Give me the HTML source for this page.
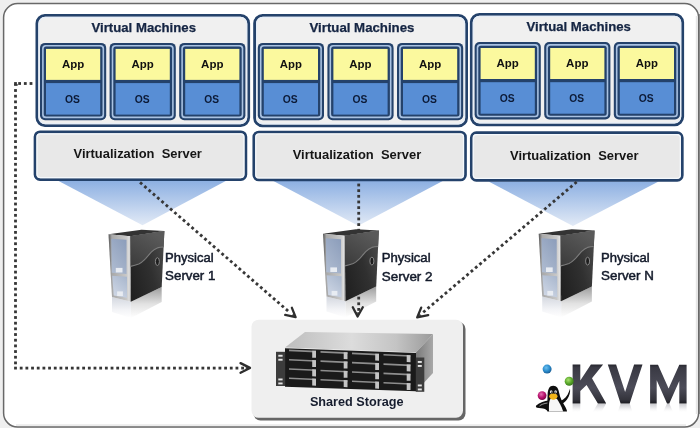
<!DOCTYPE html>
<html><head><meta charset="utf-8"><style>
html,body{margin:0;padding:0;background:#efefef;}
svg{display:block;will-change:transform;}
text{font-family:"Liberation Sans",sans-serif;white-space:pre;}
.t1{font-weight:bold;font-size:12.7px;fill:#152543;stroke:#152543;stroke-width:0.25px;}
.app{font-weight:bold;font-size:10.2px;fill:#111;}
.os{font-weight:bold;font-size:10.3px;fill:#0c1a36;}
.vs{font-weight:bold;font-size:12.3px;fill:#151515;}
.ps{font-size:11.9px;fill:#131a2a;stroke:#131a2a;stroke-width:0.45px;}
.ss{font-weight:bold;font-size:13.5px;fill:#161d2e;}
.kvm{font-weight:bold;font-size:54px;}
</style></head><body>
<svg width="700" height="428" viewBox="0 0 700 428">
<defs>
<linearGradient id="tg" x1="0" y1="0" x2="0" y2="1"><stop offset="0" stop-color="#8db0e2"/><stop offset="1" stop-color="#e2eaf6"/></linearGradient>
<linearGradient id="side" x1="0" y1="0.8" x2="1" y2="0.2"><stop offset="0" stop-color="#202020"/><stop offset="0.55" stop-color="#303030"/><stop offset="1" stop-color="#4a4a4a"/></linearGradient>
<linearGradient id="side2" x1="0" y1="1" x2="0.6" y2="0"><stop offset="0" stop-color="#3a3a3a"/><stop offset="1" stop-color="#5a5a5a"/></linearGradient>
<linearGradient id="front" x1="0" y1="0" x2="1" y2="0"><stop offset="0" stop-color="#555"/><stop offset="0.15" stop-color="#a8a8a8"/><stop offset="0.8" stop-color="#c8c8c8"/><stop offset="0.93" stop-color="#e0e0e0"/><stop offset="1" stop-color="#777"/></linearGradient>
<linearGradient id="glass" x1="0.8" y1="0" x2="0.2" y2="1"><stop offset="0" stop-color="#8e9fbc"/><stop offset="1" stop-color="#aebbd0"/></linearGradient>
<linearGradient id="glass2" x1="0.8" y1="0" x2="0.2" y2="1"><stop offset="0" stop-color="#aab8ce"/><stop offset="1" stop-color="#d0d8e6"/></linearGradient>
<linearGradient id="refl" x1="0" y1="0" x2="0" y2="1"><stop offset="0" stop-color="#9c9c9c"/><stop offset="0.55" stop-color="#e2e2e2"/><stop offset="1" stop-color="#ffffff"/></linearGradient>
<linearGradient id="refl2" x1="0" y1="0" x2="0" y2="1"><stop offset="0" stop-color="#d4d8e0"/><stop offset="0.6" stop-color="#f2f3f6"/><stop offset="1" stop-color="#ffffff"/></linearGradient>
<linearGradient id="stop" x1="0" y1="0" x2="1" y2="0"><stop offset="0" stop-color="#bdbdbd"/><stop offset="0.45" stop-color="#dcdcdc"/><stop offset="0.75" stop-color="#c4c4c4"/><stop offset="1" stop-color="#9a9a9a"/></linearGradient>
<linearGradient id="sside" x1="0" y1="0" x2="1" y2="0"><stop offset="0" stop-color="#7a7a7a"/><stop offset="1" stop-color="#a8a8a8"/></linearGradient>
<linearGradient id="kvm" gradientUnits="userSpaceOnUse" x1="0" y1="364.6" x2="0" y2="403.4"><stop offset="0" stop-color="#26262e"/><stop offset="0.08" stop-color="#3a3a44"/><stop offset="0.6" stop-color="#4c4c58"/><stop offset="0.9" stop-color="#34343c"/><stop offset="1" stop-color="#1c1c22"/></linearGradient>
<linearGradient id="rg" gradientUnits="userSpaceOnUse" x1="0" y1="403.4" x2="0" y2="412"><stop offset="0" stop-color="#fff"/><stop offset="1" stop-color="#000"/></linearGradient>
<mask id="rmask" maskUnits="userSpaceOnUse" x="560" y="395" width="140" height="30"><rect x="560" y="403.4" width="140" height="12" fill="url(#rg)"/></mask>
<radialGradient id="bb" cx="0.4" cy="0.35" r="0.65"><stop offset="0" stop-color="#6cc0f0"/><stop offset="0.6" stop-color="#2a8ccc"/><stop offset="1" stop-color="#1a5e96"/></radialGradient>
<radialGradient id="bg" cx="0.4" cy="0.35" r="0.65"><stop offset="0" stop-color="#a8e070"/><stop offset="0.6" stop-color="#5aa82a"/><stop offset="1" stop-color="#3a7a1a"/></radialGradient>
<radialGradient id="bm" cx="0.4" cy="0.35" r="0.65"><stop offset="0" stop-color="#e070b0"/><stop offset="0.6" stop-color="#b8106c"/><stop offset="1" stop-color="#7a0846"/></radialGradient>
<linearGradient id="krefl" gradientUnits="userSpaceOnUse" x1="0" y1="403.4" x2="0" y2="394"><stop offset="0" stop-color="#c8c8cc"/><stop offset="0.5" stop-color="#ececee"/><stop offset="1" stop-color="#ffffff" stop-opacity="0"/></linearGradient>
</defs>
<rect x="0" y="0" width="700" height="428" fill="#efefef"/>
<rect x="3.6" y="3.6" width="695" height="423.4" rx="14" fill="#ffffff" stroke="#686868" stroke-width="1.5"/>
<rect x="695.8" y="16" width="2" height="398" fill="#e6e6e6"/>
<rect x="699.2" y="14" width="1" height="400" fill="#7a7a7a"/>
<rect x="16" y="424.2" width="670" height="1.8" fill="#ececec"/>
<polygon points="58.6,181 225.7,181 142.5,225.2" fill="url(#tg)"/>
<polygon points="273.4,181 442.7,181 358.2,225.8" fill="url(#tg)"/>
<polygon points="488.6,181.5 658.6,181.5 572.9,225.9" fill="url(#tg)"/>
<rect x="36.9" y="15.4" width="211.8" height="110.2" rx="8" fill="#f0f0f0" stroke="#24426b" stroke-width="2.8"/>
<rect x="38.9" y="17.4" width="207.8" height="106.2" rx="6.5" fill="none" stroke="#e6eef8" stroke-width="1.2"/>
<text x="91.51" y="32.0" class="t1" textLength="104.48" lengthAdjust="spacingAndGlyphs" >Virtual Machines</text>
<rect x="40.00" y="42.9" width="66.2" height="77.4" rx="5" fill="#24426b"/>
<rect x="42.10" y="45.0" width="62.00" height="73.20" rx="3.5" fill="#a9c2e2"/>
<rect x="43.70" y="46.6" width="58.80" height="70.00" rx="2.5" fill="#24426b"/>
<rect x="46.00" y="48.9" width="54.20" height="31.0" fill="#fbf99e"/>
<rect x="46.00" y="83.10" width="54.20" height="31.5" fill="#588ed5"/>
<text x="62.08" y="67.6" class="app" textLength="22.31" lengthAdjust="spacingAndGlyphs" >App</text>
<text x="65.04" y="103.1" class="os" textLength="14.91" lengthAdjust="spacingAndGlyphs" >OS</text>
<rect x="109.60" y="42.9" width="66.2" height="77.4" rx="5" fill="#24426b"/>
<rect x="111.70" y="45.0" width="62.00" height="73.20" rx="3.5" fill="#a9c2e2"/>
<rect x="113.30" y="46.6" width="58.80" height="70.00" rx="2.5" fill="#24426b"/>
<rect x="115.60" y="48.9" width="54.20" height="31.0" fill="#fbf99e"/>
<rect x="115.60" y="83.10" width="54.20" height="31.5" fill="#588ed5"/>
<text x="131.53" y="67.6" class="app" textLength="22.26" lengthAdjust="spacingAndGlyphs" >App</text>
<text x="134.71" y="103.1" class="os" textLength="14.91" lengthAdjust="spacingAndGlyphs" >OS</text>
<rect x="179.20" y="42.9" width="66.2" height="77.4" rx="5" fill="#24426b"/>
<rect x="181.30" y="45.0" width="62.00" height="73.20" rx="3.5" fill="#a9c2e2"/>
<rect x="182.90" y="46.6" width="58.80" height="70.00" rx="2.5" fill="#24426b"/>
<rect x="185.20" y="48.9" width="54.20" height="31.0" fill="#fbf99e"/>
<rect x="185.20" y="83.10" width="54.20" height="31.5" fill="#588ed5"/>
<text x="201.13" y="67.6" class="app" textLength="22.41" lengthAdjust="spacingAndGlyphs" >App</text>
<text x="204.37" y="103.1" class="os" textLength="14.75" lengthAdjust="spacingAndGlyphs" >OS</text>
<rect x="254.6" y="15.3" width="212.0" height="110.6" rx="8" fill="#f0f0f0" stroke="#24426b" stroke-width="2.8"/>
<rect x="256.6" y="17.3" width="208.0" height="106.6" rx="6.5" fill="none" stroke="#e6eef8" stroke-width="1.2"/>
<text x="309.51" y="31.7" class="t1" textLength="104.94" lengthAdjust="spacingAndGlyphs" >Virtual Machines</text>
<rect x="257.80" y="42.9" width="66.2" height="77.4" rx="5" fill="#24426b"/>
<rect x="259.90" y="45.0" width="62.00" height="73.20" rx="3.5" fill="#a9c2e2"/>
<rect x="261.50" y="46.6" width="58.80" height="70.00" rx="2.5" fill="#24426b"/>
<rect x="263.80" y="48.9" width="54.20" height="31.0" fill="#fbf99e"/>
<rect x="263.80" y="83.10" width="54.20" height="31.5" fill="#588ed5"/>
<text x="279.88" y="67.6" class="app" textLength="22.10" lengthAdjust="spacingAndGlyphs" >App</text>
<text x="282.84" y="103.1" class="os" textLength="14.92" lengthAdjust="spacingAndGlyphs" >OS</text>
<rect x="327.40" y="42.9" width="66.2" height="77.4" rx="5" fill="#24426b"/>
<rect x="329.50" y="45.0" width="62.00" height="73.20" rx="3.5" fill="#a9c2e2"/>
<rect x="331.10" y="46.6" width="58.80" height="70.00" rx="2.5" fill="#24426b"/>
<rect x="333.40" y="48.9" width="54.20" height="31.0" fill="#fbf99e"/>
<rect x="333.40" y="83.10" width="54.20" height="31.5" fill="#588ed5"/>
<text x="349.27" y="67.6" class="app" textLength="22.29" lengthAdjust="spacingAndGlyphs" >App</text>
<text x="352.57" y="103.1" class="os" textLength="14.87" lengthAdjust="spacingAndGlyphs" >OS</text>
<rect x="397.00" y="42.9" width="66.2" height="77.4" rx="5" fill="#24426b"/>
<rect x="399.10" y="45.0" width="62.00" height="73.20" rx="3.5" fill="#a9c2e2"/>
<rect x="400.70" y="46.6" width="58.80" height="70.00" rx="2.5" fill="#24426b"/>
<rect x="403.00" y="48.9" width="54.20" height="31.0" fill="#fbf99e"/>
<rect x="403.00" y="83.10" width="54.20" height="31.5" fill="#588ed5"/>
<text x="419.08" y="67.6" class="app" textLength="22.31" lengthAdjust="spacingAndGlyphs" >App</text>
<text x="422.04" y="103.1" class="os" textLength="14.91" lengthAdjust="spacingAndGlyphs" >OS</text>
<rect x="471.3" y="14.3" width="211.4" height="110.5" rx="8" fill="#f0f0f0" stroke="#24426b" stroke-width="2.8"/>
<rect x="473.3" y="16.3" width="207.4" height="106.5" rx="6.5" fill="none" stroke="#e6eef8" stroke-width="1.2"/>
<text x="526.49" y="30.6" class="t1" textLength="104.36" lengthAdjust="spacingAndGlyphs" >Virtual Machines</text>
<rect x="474.60" y="42.0" width="66.2" height="77.4" rx="5" fill="#24426b"/>
<rect x="476.70" y="44.1" width="62.00" height="73.20" rx="3.5" fill="#a9c2e2"/>
<rect x="478.30" y="45.7" width="58.80" height="70.00" rx="2.5" fill="#24426b"/>
<rect x="480.60" y="48.0" width="54.20" height="31.0" fill="#fbf99e"/>
<rect x="480.60" y="82.20" width="54.20" height="31.5" fill="#588ed5"/>
<text x="496.53" y="66.7" class="app" textLength="22.26" lengthAdjust="spacingAndGlyphs" >App</text>
<text x="499.71" y="102.2" class="os" textLength="14.91" lengthAdjust="spacingAndGlyphs" >OS</text>
<rect x="544.20" y="42.0" width="66.2" height="77.4" rx="5" fill="#24426b"/>
<rect x="546.30" y="44.1" width="62.00" height="73.20" rx="3.5" fill="#a9c2e2"/>
<rect x="547.90" y="45.7" width="58.80" height="70.00" rx="2.5" fill="#24426b"/>
<rect x="550.20" y="48.0" width="54.20" height="31.0" fill="#fbf99e"/>
<rect x="550.20" y="82.20" width="54.20" height="31.5" fill="#588ed5"/>
<text x="566.13" y="66.7" class="app" textLength="22.41" lengthAdjust="spacingAndGlyphs" >App</text>
<text x="569.30" y="102.2" class="os" textLength="14.80" lengthAdjust="spacingAndGlyphs" >OS</text>
<rect x="613.80" y="42.0" width="66.2" height="77.4" rx="5" fill="#24426b"/>
<rect x="615.90" y="44.1" width="62.00" height="73.20" rx="3.5" fill="#a9c2e2"/>
<rect x="617.50" y="45.7" width="58.80" height="70.00" rx="2.5" fill="#24426b"/>
<rect x="619.80" y="48.0" width="54.20" height="31.0" fill="#fbf99e"/>
<rect x="619.80" y="82.20" width="54.20" height="31.5" fill="#588ed5"/>
<text x="635.88" y="66.7" class="app" textLength="22.10" lengthAdjust="spacingAndGlyphs" >App</text>
<text x="638.84" y="102.2" class="os" textLength="14.92" lengthAdjust="spacingAndGlyphs" >OS</text>
<rect x="35.0" y="131.8" width="210.9" height="47.79999999999998" rx="5" fill="#e8e8e8" stroke="#24426b" stroke-width="2.7"/>
<rect x="37.0" y="133.8" width="206.9" height="43.79999999999998" rx="3.5" fill="none" stroke="#f4f8fc" stroke-width="1.2"/>
<text x="73.57" y="158.4" class="vs" textLength="128.32" lengthAdjust="spacingAndGlyphs" >Virtualization  Server</text>
<rect x="253.8" y="132.0" width="211.7" height="47.900000000000006" rx="5" fill="#e8e8e8" stroke="#24426b" stroke-width="2.7"/>
<rect x="255.8" y="134.0" width="207.7" height="43.900000000000006" rx="3.5" fill="none" stroke="#f4f8fc" stroke-width="1.2"/>
<text x="292.68" y="158.7" class="vs" textLength="128.66" lengthAdjust="spacingAndGlyphs" >Virtualization  Server</text>
<rect x="471.3" y="132.7" width="210.99999999999994" height="47.60000000000002" rx="5" fill="#e8e8e8" stroke="#24426b" stroke-width="2.7"/>
<rect x="473.3" y="134.7" width="206.99999999999994" height="43.60000000000002" rx="3.5" fill="none" stroke="#f4f8fc" stroke-width="1.2"/>
<text x="510.03" y="159.6" class="vs" textLength="128.50" lengthAdjust="spacingAndGlyphs" >Virtualization  Server</text>
<rect x="253.5" y="322" width="212" height="98.5" rx="7" fill="#666" />
<rect x="251.5" y="319.8" width="211.5" height="98" rx="7" fill="#efefef"/>
<g>
<polygon points="285,347.5 305,332 433,334 416,352.5" fill="url(#stop)"/>
<polygon points="285,347.5 416,352.5 416,354 285,349" fill="#e6e6e6" opacity="0.6"/>
<polygon points="416,352.5 433,334 433,373 416,391.2" fill="url(#sside)"/>
<polygon points="285,348.3 416,353 416,391.2 285,386.8" fill="#1a1a1a"/>
<polygon points="276,351.8 285.2,351.8 285.2,386 276,386" fill="#3c3c3c"/>
<polygon points="415.8,357.5 424.3,357.5 424.3,391.8 415.8,391.8" fill="#3c3c3c"/>
<rect x="278.3" y="354.8" width="4.3" height="1.9" fill="#e4e4e4"/>
<rect x="278.3" y="358.8" width="4.3" height="1.9" fill="#e4e4e4"/>
<rect x="278.3" y="378.5" width="4.3" height="1.9" fill="#e4e4e4"/>
<rect x="278.3" y="382.5" width="4.3" height="1.9" fill="#e4e4e4"/>
<rect x="417.8" y="361" width="4" height="1.9" fill="#e4e4e4"/>
<rect x="417.8" y="365" width="4" height="1.9" fill="#e4e4e4"/>
<rect x="417.8" y="384.5" width="4" height="1.9" fill="#e4e4e4"/>
<rect x="417.8" y="388.5" width="4" height="1.9" fill="#e4e4e4"/>
<polygon points="289.0,349.60 316.0,350.85 316.0,352.45 289.0,351.20" fill="#8e8e8e"/>
<polygon points="312.2,350.70 316.0,350.85 316.0,357.80 312.2,357.65" fill="#c4c4c4"/>
<polygon points="320.5,351.07 347.5,352.32 347.5,353.92 320.5,352.67" fill="#8e8e8e"/>
<polygon points="343.7,352.17 347.5,352.32 347.5,359.27 343.7,359.12" fill="#c4c4c4"/>
<polygon points="352.0,352.54 379.0,353.79 379.0,355.39 352.0,354.14" fill="#8e8e8e"/>
<polygon points="375.2,353.64 379.0,353.79 379.0,360.74 375.2,360.59" fill="#c4c4c4"/>
<polygon points="383.5,354.01 410.5,355.26 410.5,356.86 383.5,355.61" fill="#8e8e8e"/>
<polygon points="406.7,355.11 410.5,355.26 410.5,362.21 406.7,362.06" fill="#c4c4c4"/>
<polygon points="289.0,358.90 316.0,360.15 316.0,361.75 289.0,360.50" fill="#8e8e8e"/>
<polygon points="312.2,360.00 316.0,360.15 316.0,367.10 312.2,366.95" fill="#c4c4c4"/>
<polygon points="320.5,360.37 347.5,361.62 347.5,363.22 320.5,361.97" fill="#8e8e8e"/>
<polygon points="343.7,361.47 347.5,361.62 347.5,368.57 343.7,368.42" fill="#c4c4c4"/>
<polygon points="352.0,361.84 379.0,363.09 379.0,364.69 352.0,363.44" fill="#8e8e8e"/>
<polygon points="375.2,362.94 379.0,363.09 379.0,370.04 375.2,369.89" fill="#c4c4c4"/>
<polygon points="383.5,363.31 410.5,364.56 410.5,366.16 383.5,364.91" fill="#8e8e8e"/>
<polygon points="406.7,364.41 410.5,364.56 410.5,371.51 406.7,371.36" fill="#c4c4c4"/>
<polygon points="289.0,368.20 316.0,369.45 316.0,371.05 289.0,369.80" fill="#8e8e8e"/>
<polygon points="312.2,369.30 316.0,369.45 316.0,376.40 312.2,376.25" fill="#c4c4c4"/>
<polygon points="320.5,369.67 347.5,370.92 347.5,372.52 320.5,371.27" fill="#8e8e8e"/>
<polygon points="343.7,370.77 347.5,370.92 347.5,377.87 343.7,377.72" fill="#c4c4c4"/>
<polygon points="352.0,371.14 379.0,372.39 379.0,373.99 352.0,372.74" fill="#8e8e8e"/>
<polygon points="375.2,372.24 379.0,372.39 379.0,379.34 375.2,379.19" fill="#c4c4c4"/>
<polygon points="383.5,372.61 410.5,373.86 410.5,375.46 383.5,374.21" fill="#8e8e8e"/>
<polygon points="406.7,373.71 410.5,373.86 410.5,380.81 406.7,380.66" fill="#c4c4c4"/>
<polygon points="289.0,377.50 316.0,378.75 316.0,380.35 289.0,379.10" fill="#8e8e8e"/>
<polygon points="312.2,378.60 316.0,378.75 316.0,385.70 312.2,385.55" fill="#c4c4c4"/>
<polygon points="320.5,378.97 347.5,380.22 347.5,381.82 320.5,380.57" fill="#8e8e8e"/>
<polygon points="343.7,380.07 347.5,380.22 347.5,387.17 343.7,387.02" fill="#c4c4c4"/>
<polygon points="352.0,380.44 379.0,381.69 379.0,383.29 352.0,382.04" fill="#8e8e8e"/>
<polygon points="375.2,381.54 379.0,381.69 379.0,388.64 375.2,388.49" fill="#c4c4c4"/>
<polygon points="383.5,381.91 410.5,383.16 410.5,384.76 383.5,383.51" fill="#8e8e8e"/>
<polygon points="406.7,383.01 410.5,383.16 410.5,390.11 406.7,389.96" fill="#c4c4c4"/>
</g>
<text x="309.90" y="405.8" class="ss" textLength="93.63" lengthAdjust="spacingAndGlyphs" >Shared Storage</text>
<polygon transform="translate(0,0)" points="130.9,301.7 161.7,286.9 161.7,302 130.9,318" fill="url(#refl)"/>
<polygon transform="translate(0,0)" points="112,297.1 130.9,301.7 130.9,318 112,312" fill="url(#refl2)"/>
<polygon transform="translate(214.5,-0.5)" points="130.9,301.7 161.7,286.9 161.7,302 130.9,318" fill="url(#refl)"/>
<polygon transform="translate(214.5,-0.5)" points="112,297.1 130.9,301.7 130.9,318 112,312" fill="url(#refl2)"/>
<polygon transform="translate(430.2,-0.5)" points="130.9,301.7 161.7,286.9 161.7,302 130.9,318" fill="url(#refl)"/>
<polygon transform="translate(430.2,-0.5)" points="112,297.1 130.9,301.7 130.9,318 112,312" fill="url(#refl2)"/>
<g fill="#363636"><rect x="139.70" y="181.90" width="2.8" height="2.8" transform="rotate(41.0 141.10 183.30)"/><rect x="143.99" y="185.63" width="2.8" height="2.8" transform="rotate(41.0 145.39 187.03)"/><rect x="148.28" y="189.36" width="2.8" height="2.8" transform="rotate(41.0 149.68 190.76)"/><rect x="152.57" y="193.09" width="2.8" height="2.8" transform="rotate(41.0 153.97 194.49)"/><rect x="156.86" y="196.82" width="2.8" height="2.8" transform="rotate(41.0 158.26 198.22)"/><rect x="161.16" y="200.55" width="2.8" height="2.8" transform="rotate(41.0 162.56 201.95)"/><rect x="165.45" y="204.28" width="2.8" height="2.8" transform="rotate(41.0 166.85 205.68)"/><rect x="169.74" y="208.01" width="2.8" height="2.8" transform="rotate(41.0 171.14 209.41)"/><rect x="174.03" y="211.74" width="2.8" height="2.8" transform="rotate(41.0 175.43 213.14)"/><rect x="178.32" y="215.46" width="2.8" height="2.8" transform="rotate(41.0 179.72 216.86)"/><rect x="182.61" y="219.19" width="2.8" height="2.8" transform="rotate(41.0 184.01 220.59)"/><rect x="186.90" y="222.92" width="2.8" height="2.8" transform="rotate(41.0 188.30 224.32)"/><rect x="191.19" y="226.65" width="2.8" height="2.8" transform="rotate(41.0 192.59 228.05)"/><rect x="195.49" y="230.38" width="2.8" height="2.8" transform="rotate(41.0 196.89 231.78)"/><rect x="199.78" y="234.11" width="2.8" height="2.8" transform="rotate(41.0 201.18 235.51)"/><rect x="204.07" y="237.84" width="2.8" height="2.8" transform="rotate(41.0 205.47 239.24)"/><rect x="208.36" y="241.57" width="2.8" height="2.8" transform="rotate(41.0 209.76 242.97)"/><rect x="212.65" y="245.30" width="2.8" height="2.8" transform="rotate(41.0 214.05 246.70)"/><rect x="216.94" y="249.03" width="2.8" height="2.8" transform="rotate(41.0 218.34 250.43)"/><rect x="221.23" y="252.76" width="2.8" height="2.8" transform="rotate(41.0 222.63 254.16)"/><rect x="225.52" y="256.49" width="2.8" height="2.8" transform="rotate(41.0 226.92 257.89)"/><rect x="229.81" y="260.22" width="2.8" height="2.8" transform="rotate(41.0 231.21 261.62)"/><rect x="234.11" y="263.95" width="2.8" height="2.8" transform="rotate(41.0 235.51 265.35)"/><rect x="238.40" y="267.68" width="2.8" height="2.8" transform="rotate(41.0 239.80 269.08)"/><rect x="242.69" y="271.41" width="2.8" height="2.8" transform="rotate(41.0 244.09 272.81)"/><rect x="246.98" y="275.14" width="2.8" height="2.8" transform="rotate(41.0 248.38 276.54)"/><rect x="251.27" y="278.86" width="2.8" height="2.8" transform="rotate(41.0 252.67 280.26)"/><rect x="255.56" y="282.59" width="2.8" height="2.8" transform="rotate(41.0 256.96 283.99)"/><rect x="259.85" y="286.32" width="2.8" height="2.8" transform="rotate(41.0 261.25 287.72)"/><rect x="264.14" y="290.05" width="2.8" height="2.8" transform="rotate(41.0 265.54 291.45)"/><rect x="268.44" y="293.78" width="2.8" height="2.8" transform="rotate(41.0 269.84 295.18)"/><rect x="272.73" y="297.51" width="2.8" height="2.8" transform="rotate(41.0 274.13 298.91)"/><rect x="277.02" y="301.24" width="2.8" height="2.8" transform="rotate(41.0 278.42 302.64)"/><rect x="281.31" y="304.97" width="2.8" height="2.8" transform="rotate(41.0 282.71 306.37)"/><rect x="285.60" y="308.70" width="2.8" height="2.8" transform="rotate(41.0 287.00 310.10)"/></g>
<g fill="#363636"><rect x="357.30" y="183.60" width="2.8" height="2.8" transform="rotate(90.0 358.70 185.00)"/><rect x="357.30" y="189.25" width="2.8" height="2.8" transform="rotate(90.0 358.70 190.65)"/><rect x="357.30" y="194.91" width="2.8" height="2.8" transform="rotate(90.0 358.70 196.31)"/><rect x="357.30" y="200.56" width="2.8" height="2.8" transform="rotate(90.0 358.70 201.96)"/><rect x="357.30" y="206.22" width="2.8" height="2.8" transform="rotate(90.0 358.70 207.62)"/><rect x="357.30" y="211.87" width="2.8" height="2.8" transform="rotate(90.0 358.70 213.27)"/><rect x="357.30" y="217.53" width="2.8" height="2.8" transform="rotate(90.0 358.70 218.93)"/><rect x="357.30" y="223.18" width="2.8" height="2.8" transform="rotate(90.0 358.70 224.58)"/><rect x="357.30" y="228.84" width="2.8" height="2.8" transform="rotate(90.0 358.70 230.24)"/><rect x="357.30" y="234.49" width="2.8" height="2.8" transform="rotate(90.0 358.70 235.89)"/><rect x="357.30" y="240.15" width="2.8" height="2.8" transform="rotate(90.0 358.70 241.55)"/><rect x="357.30" y="245.80" width="2.8" height="2.8" transform="rotate(90.0 358.70 247.20)"/><rect x="357.30" y="251.45" width="2.8" height="2.8" transform="rotate(90.0 358.70 252.85)"/><rect x="357.30" y="257.11" width="2.8" height="2.8" transform="rotate(90.0 358.70 258.51)"/><rect x="357.30" y="262.76" width="2.8" height="2.8" transform="rotate(90.0 358.70 264.16)"/><rect x="357.30" y="268.42" width="2.8" height="2.8" transform="rotate(90.0 358.70 269.82)"/><rect x="357.30" y="274.07" width="2.8" height="2.8" transform="rotate(90.0 358.70 275.47)"/><rect x="357.30" y="279.73" width="2.8" height="2.8" transform="rotate(90.0 358.70 281.13)"/><rect x="357.30" y="285.38" width="2.8" height="2.8" transform="rotate(90.0 358.70 286.78)"/><rect x="357.30" y="291.04" width="2.8" height="2.8" transform="rotate(90.0 358.70 292.44)"/><rect x="357.30" y="296.69" width="2.8" height="2.8" transform="rotate(90.0 358.70 298.09)"/><rect x="357.30" y="302.35" width="2.8" height="2.8" transform="rotate(90.0 358.70 303.75)"/><rect x="357.30" y="308.00" width="2.8" height="2.8" transform="rotate(90.0 358.70 309.40)"/></g>
<g fill="#363636"><rect x="574.20" y="181.50" width="2.8" height="2.8" transform="rotate(139.7 575.60 182.90)"/><rect x="569.88" y="185.17" width="2.8" height="2.8" transform="rotate(139.7 571.28 186.57)"/><rect x="565.55" y="188.84" width="2.8" height="2.8" transform="rotate(139.7 566.95 190.24)"/><rect x="561.23" y="192.51" width="2.8" height="2.8" transform="rotate(139.7 562.63 193.91)"/><rect x="556.91" y="196.19" width="2.8" height="2.8" transform="rotate(139.7 558.31 197.59)"/><rect x="552.59" y="199.86" width="2.8" height="2.8" transform="rotate(139.7 553.99 201.26)"/><rect x="548.26" y="203.53" width="2.8" height="2.8" transform="rotate(139.7 549.66 204.93)"/><rect x="543.94" y="207.20" width="2.8" height="2.8" transform="rotate(139.7 545.34 208.60)"/><rect x="539.62" y="210.87" width="2.8" height="2.8" transform="rotate(139.7 541.02 212.27)"/><rect x="535.29" y="214.54" width="2.8" height="2.8" transform="rotate(139.7 536.69 215.94)"/><rect x="530.97" y="218.21" width="2.8" height="2.8" transform="rotate(139.7 532.37 219.61)"/><rect x="526.65" y="221.89" width="2.8" height="2.8" transform="rotate(139.7 528.05 223.29)"/><rect x="522.33" y="225.56" width="2.8" height="2.8" transform="rotate(139.7 523.73 226.96)"/><rect x="518.00" y="229.23" width="2.8" height="2.8" transform="rotate(139.7 519.40 230.63)"/><rect x="513.68" y="232.90" width="2.8" height="2.8" transform="rotate(139.7 515.08 234.30)"/><rect x="509.36" y="236.57" width="2.8" height="2.8" transform="rotate(139.7 510.76 237.97)"/><rect x="505.03" y="240.24" width="2.8" height="2.8" transform="rotate(139.7 506.43 241.64)"/><rect x="500.71" y="243.91" width="2.8" height="2.8" transform="rotate(139.7 502.11 245.31)"/><rect x="496.39" y="247.59" width="2.8" height="2.8" transform="rotate(139.7 497.79 248.99)"/><rect x="492.07" y="251.26" width="2.8" height="2.8" transform="rotate(139.7 493.47 252.66)"/><rect x="487.74" y="254.93" width="2.8" height="2.8" transform="rotate(139.7 489.14 256.33)"/><rect x="483.42" y="258.60" width="2.8" height="2.8" transform="rotate(139.7 484.82 260.00)"/><rect x="479.10" y="262.27" width="2.8" height="2.8" transform="rotate(139.7 480.50 263.67)"/><rect x="474.77" y="265.94" width="2.8" height="2.8" transform="rotate(139.7 476.17 267.34)"/><rect x="470.45" y="269.61" width="2.8" height="2.8" transform="rotate(139.7 471.85 271.01)"/><rect x="466.13" y="273.29" width="2.8" height="2.8" transform="rotate(139.7 467.53 274.69)"/><rect x="461.81" y="276.96" width="2.8" height="2.8" transform="rotate(139.7 463.21 278.36)"/><rect x="457.48" y="280.63" width="2.8" height="2.8" transform="rotate(139.7 458.88 282.03)"/><rect x="453.16" y="284.30" width="2.8" height="2.8" transform="rotate(139.7 454.56 285.70)"/><rect x="448.84" y="287.97" width="2.8" height="2.8" transform="rotate(139.7 450.24 289.37)"/><rect x="444.51" y="291.64" width="2.8" height="2.8" transform="rotate(139.7 445.91 293.04)"/><rect x="440.19" y="295.31" width="2.8" height="2.8" transform="rotate(139.7 441.59 296.71)"/><rect x="435.87" y="298.99" width="2.8" height="2.8" transform="rotate(139.7 437.27 300.39)"/><rect x="431.55" y="302.66" width="2.8" height="2.8" transform="rotate(139.7 432.95 304.06)"/><rect x="427.22" y="306.33" width="2.8" height="2.8" transform="rotate(139.7 428.62 307.73)"/><rect x="422.90" y="310.00" width="2.8" height="2.8" transform="rotate(139.7 424.30 311.40)"/></g>
<g fill="#363636"><rect x="29.60" y="82.10" width="2.8" height="2.8" transform="rotate(180.0 31.00 83.50)"/><rect x="23.90" y="82.10" width="2.8" height="2.8" transform="rotate(180.0 25.30 83.50)"/><rect x="18.20" y="82.10" width="2.8" height="2.8" transform="rotate(180.0 19.60 83.50)"/></g>
<g fill="#363636"><rect x="14.1" y="82.1" width="2.8" height="3.4"/><rect x="14.1" y="84.1" width="3.6" height="1.6"/></g>
<g fill="#363636"><rect x="14.10" y="89.10" width="2.8" height="2.8" transform="rotate(90.0 15.50 90.50)"/><rect x="14.10" y="94.77" width="2.8" height="2.8" transform="rotate(90.0 15.50 96.17)"/><rect x="14.10" y="100.45" width="2.8" height="2.8" transform="rotate(90.0 15.50 101.85)"/><rect x="14.10" y="106.12" width="2.8" height="2.8" transform="rotate(90.0 15.50 107.53)"/><rect x="14.10" y="111.80" width="2.8" height="2.8" transform="rotate(90.0 15.50 113.20)"/><rect x="14.10" y="117.47" width="2.8" height="2.8" transform="rotate(90.0 15.50 118.88)"/><rect x="14.10" y="123.15" width="2.8" height="2.8" transform="rotate(90.0 15.50 124.55)"/><rect x="14.10" y="128.82" width="2.8" height="2.8" transform="rotate(90.0 15.50 130.22)"/><rect x="14.10" y="134.50" width="2.8" height="2.8" transform="rotate(90.0 15.50 135.90)"/><rect x="14.10" y="140.17" width="2.8" height="2.8" transform="rotate(90.0 15.50 141.57)"/><rect x="14.10" y="145.85" width="2.8" height="2.8" transform="rotate(90.0 15.50 147.25)"/><rect x="14.10" y="151.52" width="2.8" height="2.8" transform="rotate(90.0 15.50 152.92)"/><rect x="14.10" y="157.20" width="2.8" height="2.8" transform="rotate(90.0 15.50 158.60)"/><rect x="14.10" y="162.87" width="2.8" height="2.8" transform="rotate(90.0 15.50 164.27)"/><rect x="14.10" y="168.55" width="2.8" height="2.8" transform="rotate(90.0 15.50 169.95)"/><rect x="14.10" y="174.22" width="2.8" height="2.8" transform="rotate(90.0 15.50 175.62)"/><rect x="14.10" y="179.90" width="2.8" height="2.8" transform="rotate(90.0 15.50 181.30)"/><rect x="14.10" y="185.57" width="2.8" height="2.8" transform="rotate(90.0 15.50 186.97)"/><rect x="14.10" y="191.25" width="2.8" height="2.8" transform="rotate(90.0 15.50 192.65)"/><rect x="14.10" y="196.92" width="2.8" height="2.8" transform="rotate(90.0 15.50 198.32)"/><rect x="14.10" y="202.60" width="2.8" height="2.8" transform="rotate(90.0 15.50 204.00)"/><rect x="14.10" y="208.28" width="2.8" height="2.8" transform="rotate(90.0 15.50 209.68)"/><rect x="14.10" y="213.95" width="2.8" height="2.8" transform="rotate(90.0 15.50 215.35)"/><rect x="14.10" y="219.62" width="2.8" height="2.8" transform="rotate(90.0 15.50 221.03)"/><rect x="14.10" y="225.30" width="2.8" height="2.8" transform="rotate(90.0 15.50 226.70)"/><rect x="14.10" y="230.97" width="2.8" height="2.8" transform="rotate(90.0 15.50 232.37)"/><rect x="14.10" y="236.65" width="2.8" height="2.8" transform="rotate(90.0 15.50 238.05)"/><rect x="14.10" y="242.32" width="2.8" height="2.8" transform="rotate(90.0 15.50 243.72)"/><rect x="14.10" y="248.00" width="2.8" height="2.8" transform="rotate(90.0 15.50 249.40)"/><rect x="14.10" y="253.67" width="2.8" height="2.8" transform="rotate(90.0 15.50 255.07)"/><rect x="14.10" y="259.35" width="2.8" height="2.8" transform="rotate(90.0 15.50 260.75)"/><rect x="14.10" y="265.02" width="2.8" height="2.8" transform="rotate(90.0 15.50 266.42)"/><rect x="14.10" y="270.70" width="2.8" height="2.8" transform="rotate(90.0 15.50 272.10)"/><rect x="14.10" y="276.38" width="2.8" height="2.8" transform="rotate(90.0 15.50 277.77)"/><rect x="14.10" y="282.05" width="2.8" height="2.8" transform="rotate(90.0 15.50 283.45)"/><rect x="14.10" y="287.73" width="2.8" height="2.8" transform="rotate(90.0 15.50 289.12)"/><rect x="14.10" y="293.40" width="2.8" height="2.8" transform="rotate(90.0 15.50 294.80)"/><rect x="14.10" y="299.08" width="2.8" height="2.8" transform="rotate(90.0 15.50 300.48)"/><rect x="14.10" y="304.75" width="2.8" height="2.8" transform="rotate(90.0 15.50 306.15)"/><rect x="14.10" y="310.42" width="2.8" height="2.8" transform="rotate(90.0 15.50 311.82)"/><rect x="14.10" y="316.10" width="2.8" height="2.8" transform="rotate(90.0 15.50 317.50)"/><rect x="14.10" y="321.77" width="2.8" height="2.8" transform="rotate(90.0 15.50 323.17)"/><rect x="14.10" y="327.45" width="2.8" height="2.8" transform="rotate(90.0 15.50 328.85)"/><rect x="14.10" y="333.12" width="2.8" height="2.8" transform="rotate(90.0 15.50 334.52)"/><rect x="14.10" y="338.80" width="2.8" height="2.8" transform="rotate(90.0 15.50 340.20)"/><rect x="14.10" y="344.48" width="2.8" height="2.8" transform="rotate(90.0 15.50 345.88)"/><rect x="14.10" y="350.15" width="2.8" height="2.8" transform="rotate(90.0 15.50 351.55)"/><rect x="14.10" y="355.82" width="2.8" height="2.8" transform="rotate(90.0 15.50 357.22)"/><rect x="14.10" y="361.50" width="2.8" height="2.8" transform="rotate(90.0 15.50 362.90)"/></g>
<g fill="#363636"><rect x="14.10" y="366.70" width="2.8" height="2.8" transform="rotate(0.0 15.50 368.10)"/><rect x="19.78" y="366.70" width="2.8" height="2.8" transform="rotate(0.0 21.18 368.10)"/><rect x="25.46" y="366.70" width="2.8" height="2.8" transform="rotate(0.0 26.86 368.10)"/><rect x="31.13" y="366.70" width="2.8" height="2.8" transform="rotate(0.0 32.53 368.10)"/><rect x="36.81" y="366.70" width="2.8" height="2.8" transform="rotate(0.0 38.21 368.10)"/><rect x="42.49" y="366.70" width="2.8" height="2.8" transform="rotate(0.0 43.89 368.10)"/><rect x="48.16" y="366.70" width="2.8" height="2.8" transform="rotate(0.0 49.56 368.10)"/><rect x="53.84" y="366.70" width="2.8" height="2.8" transform="rotate(0.0 55.24 368.10)"/><rect x="59.52" y="366.70" width="2.8" height="2.8" transform="rotate(0.0 60.92 368.10)"/><rect x="65.20" y="366.70" width="2.8" height="2.8" transform="rotate(0.0 66.60 368.10)"/><rect x="70.88" y="366.70" width="2.8" height="2.8" transform="rotate(0.0 72.28 368.10)"/><rect x="76.55" y="366.70" width="2.8" height="2.8" transform="rotate(0.0 77.95 368.10)"/><rect x="82.23" y="366.70" width="2.8" height="2.8" transform="rotate(0.0 83.63 368.10)"/><rect x="87.91" y="366.70" width="2.8" height="2.8" transform="rotate(0.0 89.31 368.10)"/><rect x="93.58" y="366.70" width="2.8" height="2.8" transform="rotate(0.0 94.98 368.10)"/><rect x="99.26" y="366.70" width="2.8" height="2.8" transform="rotate(0.0 100.66 368.10)"/><rect x="104.94" y="366.70" width="2.8" height="2.8" transform="rotate(0.0 106.34 368.10)"/><rect x="110.62" y="366.70" width="2.8" height="2.8" transform="rotate(0.0 112.02 368.10)"/><rect x="116.29" y="366.70" width="2.8" height="2.8" transform="rotate(0.0 117.69 368.10)"/><rect x="121.97" y="366.70" width="2.8" height="2.8" transform="rotate(0.0 123.37 368.10)"/><rect x="127.65" y="366.70" width="2.8" height="2.8" transform="rotate(0.0 129.05 368.10)"/><rect x="133.33" y="366.70" width="2.8" height="2.8" transform="rotate(0.0 134.73 368.10)"/><rect x="139.00" y="366.70" width="2.8" height="2.8" transform="rotate(0.0 140.41 368.10)"/><rect x="144.68" y="366.70" width="2.8" height="2.8" transform="rotate(0.0 146.08 368.10)"/><rect x="150.36" y="366.70" width="2.8" height="2.8" transform="rotate(0.0 151.76 368.10)"/><rect x="156.04" y="366.70" width="2.8" height="2.8" transform="rotate(0.0 157.44 368.10)"/><rect x="161.71" y="366.70" width="2.8" height="2.8" transform="rotate(0.0 163.11 368.10)"/><rect x="167.39" y="366.70" width="2.8" height="2.8" transform="rotate(0.0 168.79 368.10)"/><rect x="173.07" y="366.70" width="2.8" height="2.8" transform="rotate(0.0 174.47 368.10)"/><rect x="178.75" y="366.70" width="2.8" height="2.8" transform="rotate(0.0 180.15 368.10)"/><rect x="184.42" y="366.70" width="2.8" height="2.8" transform="rotate(0.0 185.82 368.10)"/><rect x="190.10" y="366.70" width="2.8" height="2.8" transform="rotate(0.0 191.50 368.10)"/><rect x="195.78" y="366.70" width="2.8" height="2.8" transform="rotate(0.0 197.18 368.10)"/><rect x="201.46" y="366.70" width="2.8" height="2.8" transform="rotate(0.0 202.86 368.10)"/><rect x="207.13" y="366.70" width="2.8" height="2.8" transform="rotate(0.0 208.53 368.10)"/><rect x="212.81" y="366.70" width="2.8" height="2.8" transform="rotate(0.0 214.21 368.10)"/><rect x="218.49" y="366.70" width="2.8" height="2.8" transform="rotate(0.0 219.89 368.10)"/><rect x="224.17" y="366.70" width="2.8" height="2.8" transform="rotate(0.0 225.57 368.10)"/><rect x="229.84" y="366.70" width="2.8" height="2.8" transform="rotate(0.0 231.24 368.10)"/><rect x="235.52" y="366.70" width="2.8" height="2.8" transform="rotate(0.0 236.92 368.10)"/><rect x="241.20" y="366.70" width="2.8" height="2.8" transform="rotate(0.0 242.60 368.10)"/></g>
<polygon points="295.6,317.2 293.94,312.97 290.92,316.16" fill="#555"/><path d="M291.9,307.8 L295.6,317.2 L285.2,314.9" fill="none" stroke="#2e2e2e" stroke-width="2.3" stroke-linecap="round" stroke-linejoin="round"/>
<polygon points="357.6,316.5 355.44,312.36 359.94,312.36" fill="#555"/><path d="M352.8,307.3 L357.6,316.5 L362.8,307.3" fill="none" stroke="#2e2e2e" stroke-width="2.3" stroke-linecap="round" stroke-linejoin="round"/>
<polygon points="417.2,317.4 419.00,312.99 422.15,316.37" fill="#555"/><path d="M421.2,307.6 L417.2,317.4 L428.2,315.1" fill="none" stroke="#2e2e2e" stroke-width="2.3" stroke-linecap="round" stroke-linejoin="round"/>
<polygon points="250.0,367.9 245.72,365.74 245.72,370.11" fill="#555"/><path d="M240.5,363.1 L250.0,367.9 L240.5,372.8" fill="none" stroke="#2e2e2e" stroke-width="2.3" stroke-linecap="round" stroke-linejoin="round"/>
<g transform="translate(0,0)">
<polygon points="108.5,234.3 141.5,229.8 164.4,231 130.3,236.3" fill="#333"/>
<polygon points="130.2,236.3 164.4,231 161.7,286.9 130.9,301.7" fill="url(#side)"/>
<path d="M130.2,236.3 L164.4,231 L163.6,247 C160,247.2 158,247.5 157.4,247.9 C154,250 152,251 151.5,251.8 C149,255 147,257.5 145.6,258.6 C142,262 139.5,263.8 138.8,264 C136,265 133,266 130.2,266.5 Z" fill="url(#side2)"/>
<path d="M130.5,266.4 C133,266 136,265 138.8,264 C142,262.5 144,260 145.6,258.6 C148,256 150,253.5 151.5,251.8 C153.5,249.8 155.5,248.5 157.4,247.9 C159.5,247.3 161.5,247.1 163.6,247" fill="none" stroke="#7c7c7c" stroke-width="1.1"/>
<polygon points="108.5,234.3 130.3,236.3 130.9,301.7 112,297.1" fill="url(#front)"/>
<polygon points="111.3,238.7 126.5,239.8 126.5,274 111.8,272.8" fill="url(#glass)"/>
<polygon points="112.2,275.8 127,276.8 127,297.8 113.7,295.4" fill="url(#glass2)"/>
<rect x="115.8" y="267.9" width="6.7" height="4.6" fill="#e8ecf2"/>
<rect x="117.1" y="291.4" width="5.8" height="4.6" fill="#e8ecf2"/>
<ellipse cx="157.4" cy="261.6" rx="2" ry="3.9" fill="#1e1e1e" stroke="#8a8a8a" stroke-width="1"/>
</g>
<g transform="translate(214.5,-0.5)">
<polygon points="108.5,234.3 141.5,229.8 164.4,231 130.3,236.3" fill="#333"/>
<polygon points="130.2,236.3 164.4,231 161.7,286.9 130.9,301.7" fill="url(#side)"/>
<path d="M130.2,236.3 L164.4,231 L163.6,247 C160,247.2 158,247.5 157.4,247.9 C154,250 152,251 151.5,251.8 C149,255 147,257.5 145.6,258.6 C142,262 139.5,263.8 138.8,264 C136,265 133,266 130.2,266.5 Z" fill="url(#side2)"/>
<path d="M130.5,266.4 C133,266 136,265 138.8,264 C142,262.5 144,260 145.6,258.6 C148,256 150,253.5 151.5,251.8 C153.5,249.8 155.5,248.5 157.4,247.9 C159.5,247.3 161.5,247.1 163.6,247" fill="none" stroke="#7c7c7c" stroke-width="1.1"/>
<polygon points="108.5,234.3 130.3,236.3 130.9,301.7 112,297.1" fill="url(#front)"/>
<polygon points="111.3,238.7 126.5,239.8 126.5,274 111.8,272.8" fill="url(#glass)"/>
<polygon points="112.2,275.8 127,276.8 127,297.8 113.7,295.4" fill="url(#glass2)"/>
<rect x="115.8" y="267.9" width="6.7" height="4.6" fill="#e8ecf2"/>
<rect x="117.1" y="291.4" width="5.8" height="4.6" fill="#e8ecf2"/>
<ellipse cx="157.4" cy="261.6" rx="2" ry="3.9" fill="#1e1e1e" stroke="#8a8a8a" stroke-width="1"/>
</g>
<g transform="translate(430.2,-0.5)">
<polygon points="108.5,234.3 141.5,229.8 164.4,231 130.3,236.3" fill="#333"/>
<polygon points="130.2,236.3 164.4,231 161.7,286.9 130.9,301.7" fill="url(#side)"/>
<path d="M130.2,236.3 L164.4,231 L163.6,247 C160,247.2 158,247.5 157.4,247.9 C154,250 152,251 151.5,251.8 C149,255 147,257.5 145.6,258.6 C142,262 139.5,263.8 138.8,264 C136,265 133,266 130.2,266.5 Z" fill="url(#side2)"/>
<path d="M130.5,266.4 C133,266 136,265 138.8,264 C142,262.5 144,260 145.6,258.6 C148,256 150,253.5 151.5,251.8 C153.5,249.8 155.5,248.5 157.4,247.9 C159.5,247.3 161.5,247.1 163.6,247" fill="none" stroke="#7c7c7c" stroke-width="1.1"/>
<polygon points="108.5,234.3 130.3,236.3 130.9,301.7 112,297.1" fill="url(#front)"/>
<polygon points="111.3,238.7 126.5,239.8 126.5,274 111.8,272.8" fill="url(#glass)"/>
<polygon points="112.2,275.8 127,276.8 127,297.8 113.7,295.4" fill="url(#glass2)"/>
<rect x="115.8" y="267.9" width="6.7" height="4.6" fill="#e8ecf2"/>
<rect x="117.1" y="291.4" width="5.8" height="4.6" fill="#e8ecf2"/>
<ellipse cx="157.4" cy="261.6" rx="2" ry="3.9" fill="#1e1e1e" stroke="#8a8a8a" stroke-width="1"/>
</g>
<text x="165.07" y="261.7" class="ps" textLength="48.55" lengthAdjust="spacingAndGlyphs" >Physical</text>
<text x="165.14" y="280.2" class="ps" textLength="50.29" lengthAdjust="spacingAndGlyphs" >Server 1</text>
<text x="381.66" y="262.2" class="ps" textLength="48.95" lengthAdjust="spacingAndGlyphs" >Physical</text>
<text x="381.81" y="280.7" class="ps" textLength="50.74" lengthAdjust="spacingAndGlyphs" >Server 2</text>
<text x="601.07" y="261.7" class="ps" textLength="48.55" lengthAdjust="spacingAndGlyphs" >Physical</text>
<text x="601.13" y="280.2" class="ps" textLength="52.68" lengthAdjust="spacingAndGlyphs" >Server N</text>
<g transform="translate(0,806.8) scale(1,-1)"><polygon points="572.6,364.6 580.3,364.6 580.3,380.6 590.9,364.6 603.1,364.6 592,378.3 606.2,403.4 597.9,403.4 586.6,384.9 580.3,390.9 580.3,403.4 572.6,403.4" fill="url(#krefl)"/><polygon points="607.8,364.6 616.1,364.6 625.1,391.9 634.1,364.6 642.5,364.6 629.7,403.4 620.6,403.4" fill="url(#krefl)"/><polygon points="650.1,364.8 658,364.8 668.6,388.5 679.3,364.8 686.6,364.8 686.6,403.4 679.3,403.4 679.3,380.9 669.3,403.4 667,403.4 656.7,380.2 656.7,403.4 650.1,403.4" fill="url(#krefl)"/></g>
<polygon points="572.6,364.6 580.3,364.6 580.3,380.6 590.9,364.6 603.1,364.6 592,378.3 606.2,403.4 597.9,403.4 586.6,384.9 580.3,390.9 580.3,403.4 572.6,403.4" fill="url(#kvm)"/><polygon points="607.8,364.6 616.1,364.6 625.1,391.9 634.1,364.6 642.5,364.6 629.7,403.4 620.6,403.4" fill="url(#kvm)"/><polygon points="650.1,364.8 658,364.8 668.6,388.5 679.3,364.8 686.6,364.8 686.6,403.4 679.3,403.4 679.3,380.9 669.3,403.4 667,403.4 656.7,380.2 656.7,403.4 650.1,403.4" fill="url(#kvm)"/>
<circle cx="547.1" cy="369.1" r="4.5" fill="url(#bb)"/>
<circle cx="569.2" cy="381.3" r="4.5" fill="url(#bg)"/>
<circle cx="542.1" cy="395.6" r="4.4" fill="url(#bm)"/>
<g>
<path d="M547.6,411.6 C547.2,406 547.4,400 547.6,395 C547.8,389 549.5,385.8 553.2,385.8 C557,385.8 558.6,389 559.2,393 C560,398 562.5,402 564.5,405.5 C566,408 567,410 567,411.6 Z" fill="#0e0e0e"/>
<path d="M549,411.6 C548.6,406 549,401 550.5,398.8 L556.8,398.8 C558.6,401.5 561.5,406 563.2,411.6 Z" fill="#f7f7f7"/>
<path d="M549.2,396.2 C549.5,394.2 551.5,393.6 553.3,393.6 C555.3,393.6 557.3,394.2 557.5,396.2 C557.3,398.4 555.3,399.8 553.3,399.8 C551.4,399.8 549.4,398.4 549.2,396.2 Z" fill="#f2b51a"/>
<ellipse cx="551.2" cy="391.8" rx="1.3" ry="1.6" fill="#e8e8e8"/>
<ellipse cx="555.6" cy="391.8" rx="1.3" ry="1.6" fill="#e8e8e8"/>
<circle cx="551.6" cy="392.2" r="0.6" fill="#111"/>
<circle cx="555.2" cy="392.2" r="0.6" fill="#111"/>
<path d="M560.5,401 C564,399.5 567.5,396 569,391.5 L570,388.8 C570.5,392 569.5,396 567,399.5 C565,402 563,403.5 561.5,404 Z" fill="#0e0e0e"/>
<path d="M548.5,400.5 C545,401 539.5,402.5 536.2,405.6 C535.5,406.5 536,407.6 537.2,407.8 C539.5,408.2 542.5,408 545,409 C546.5,409.8 547.3,410.8 548,411.6 L548.8,404 Z" fill="#0e0e0e"/>
<path d="M547.5,403 C544,403.5 541,404.5 539.5,406" fill="none" stroke="#fff" stroke-width="0.7" opacity="0.8"/>
</g>
</svg>
</body></html>
